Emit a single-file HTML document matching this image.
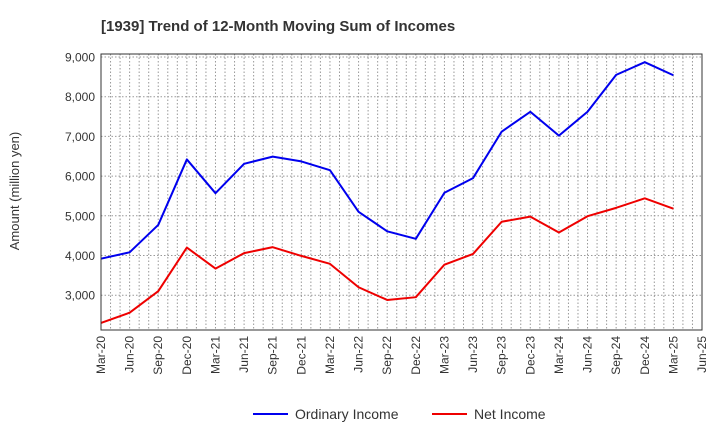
<!DOCTYPE html>
<html><head><meta charset="utf-8"><style>
body{margin:0;background:#fff;font-family:"Liberation Sans",sans-serif;}
</style></head><body>
<svg width="720" height="440" xmlns="http://www.w3.org/2000/svg" font-family="Liberation Sans, sans-serif">
<text x="101" y="31" font-size="15" font-weight="bold" fill="#333">[1939]  Trend of 12-Month Moving Sum of Incomes</text>
<g id="grid"></g>
<g id="yaxis"></g>
<g id="xaxis"></g>
<g id="series"></g>
<rect x="101" y="54" width="601" height="276" fill="none" stroke="#333" stroke-width="1"/>
<text transform="translate(19,191) rotate(-90)" text-anchor="middle" font-size="13" fill="#333">Amount (million yen)</text>
<g>
<line x1="253" y1="414" x2="288" y2="414" stroke="#0000ee" stroke-width="2"/>
<text x="295" y="419" font-size="14" fill="#333">Ordinary Income</text>
<line x1="432" y1="414" x2="467" y2="414" stroke="#ee0000" stroke-width="2"/>
<text x="474" y="419" font-size="14" fill="#333">Net Income</text>
</g>
</svg>
<script>
const categories=["Mar-20","Jun-20","Sep-20","Dec-20","Mar-21","Jun-21","Sep-21","Dec-21","Mar-22","Jun-22","Sep-22","Dec-22","Mar-23","Jun-23","Sep-23","Dec-23","Mar-24","Jun-24","Sep-24","Dec-24","Mar-25","Jun-25"];
const ordinaryIncome=[3920,4080,4770,6420,5570,6310,6490,6370,6150,5100,4610,4420,5580,5950,7120,7620,7020,7620,8550,8870,8540];
const netIncome=[2300,2560,3100,4200,3670,4060,4210,3990,3790,3200,2880,2950,3770,4040,4850,4980,4580,4990,5200,5440,5180];
const yTicks=[3000,4000,5000,6000,7000,8000,9000];
const NS="http://www.w3.org/2000/svg";
const x0=101,x1=702,yTop=54,yBot=330;
const qw=(x1-x0)/(categories.length-1);
const xs=i=>x0+i*qw;
const ys=v=>57+(9000-v)*0.0397;
function mk(tag,attrs,parent){const e=document.createElementNS(NS,tag);for(const k in attrs)e.setAttribute(k,attrs[k]);parent.appendChild(e);return e;}
const grid=document.getElementById('grid'),ya=document.getElementById('yaxis'),xa=document.getElementById('xaxis'),se=document.getElementById('series');
for(let m=1;m<(categories.length-1)*3;m++){const x=x0+m*qw/3;
const l=mk('line',{x1:x,x2:x,y1:yTop,y2:yBot,stroke:'#999','stroke-dasharray':'1.5,2','stroke-width':1},grid);
}
yTicks.forEach(v=>{const y=ys(v);
const l=mk('line',{x1:x0,x2:x1,y1:y,y2:y,stroke:'#999','stroke-dasharray':'1.5,2','stroke-width':1},grid);

const t=mk('text',{x:x0-6,y:y+4.5,'text-anchor':'end','font-size':12,fill:'#333'},ya);t.textContent=v.toLocaleString('en-US');
});
categories.forEach((c,i)=>{const x=xs(i);
const t=mk('text',{transform:`translate(${x+4},${yBot+6}) rotate(-90)`,'text-anchor':'end','font-size':12,fill:'#333'},xa);t.textContent=c;
});
function line(data,color,name){const p=mk('polyline',{points:data.map((v,i)=>xs(i)+','+ys(v)).join(' '),fill:'none',stroke:color,'stroke-width':2,'stroke-linejoin':'round'},se);
}
line(ordinaryIncome,'#0000ee','ordinary-income-line');
line(netIncome,'#ee0000','net-income-line');
</script>
</body></html>
